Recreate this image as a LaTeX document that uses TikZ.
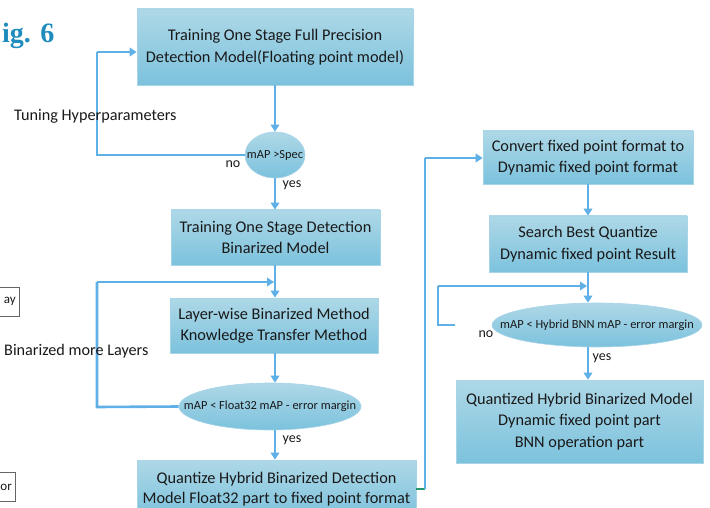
\documentclass[tikz,border=0pt]{standalone}
\usepackage{fontspec}
\setmainfont{Carlito}
\newfontfamily\figfont{Liberation Serif}
\usetikzlibrary{arrows.meta,shapes.geometric}

\definecolor{flowline}{RGB}{96,176,232}
\definecolor{boxtop}{RGB}{174,216,231}
\definecolor{boxbottom}{RGB}{124,194,221}
\definecolor{boxedge}{RGB}{168,212,232}
\definecolor{figblue}{RGB}{32,140,190}
\definecolor{textdark}{RGB}{25,25,25}
\definecolor{exitgreen}{RGB}{40,150,110}

\tikzset{
  stepbox/.style={rectangle, draw=boxedge, line width=0.6pt,
    top color=boxtop, bottom color=boxbottom, text=textdark,
    align=center, inner sep=0pt, font=\fontsize{16.3}{21.5}\selectfont},
  % the oval itself carries no text; its caption is a centred label
  testoval/.style={ellipse, draw=boxedge, line width=0.6pt,
    top color=boxtop, bottom color=boxbottom, inner sep=0pt,
    label={[text=textdark, inner sep=0pt, font=\fontsize{12.4}{14}\selectfont]center:#1}},
  flow/.style={draw=flowline, line width=2.6pt,
    -{Triangle[length=7pt,width=8.5pt]}},
  plainflow/.style={draw=flowline, line width=2.6pt},
  note/.style={text=textdark, inner sep=0pt, font=\fontsize{16.2}{19}\selectfont},
  smallnote/.style={text=textdark, inner sep=0pt, font=\fontsize{14}{16}\selectfont},
  sidebox/.style={draw=black!60, line width=0.6pt, fill=white},
}

\begin{document}
\begin{tikzpicture}[x=1pt,y=-1pt]
\useasboundingbox (0,0) rectangle (710,508);

% figure caption
\node[anchor=base west, inner sep=0pt, text=figblue,
      font=\figfont\bfseries\fontsize{28}{30}\selectfont] (figlabel) at (2,43) {ig. 6};

% partial boxes at the left border
\draw[sidebox] (-20,287) rectangle (19,316);
\node[anchor=east, inner sep=0pt, text=textdark, font=\fontsize{13}{15}\selectfont] (sideA) at (16,301) {ay};
\draw[sidebox] (-20,472) rectangle (15,501);
\node[anchor=east, inner sep=0pt, text=textdark, font=\fontsize{13}{15}\selectfont] (sideB) at (12,487) {or};

% left column
\node[stepbox, minimum width=276pt, minimum height=76pt] (train) at (275,47)
  {Training One Stage Full Precision\\Detection Model(Floating point model)};
\node[testoval={mAP >Spec}, minimum width=60pt, minimum height=46pt] (spec) at (275,155) {};
\node[stepbox, minimum width=209pt, minimum height=55pt] (binmodel) at (275.5,237.5)
  {Training One Stage Detection\\Binarized Model};
\node[stepbox, minimum width=208pt, minimum height=55pt] (layerwise) at (274,325.5)
  {Layer-wise Binarized Method\\Knowledge Transfer Method};
\node[testoval={mAP < Float32 mAP - error margin}, minimum width=182pt, minimum height=47pt]
  (floatcheck) at (270,406.5) {};
\node[stepbox, minimum width=279pt, minimum height=58pt, font=\fontsize{16.3}{20.5}\selectfont]
  (quantize) at (276.5,489) {Quantize Hybrid Binarized Detection\\Model Float32 part to fixed point format};

% right column
\node[stepbox, minimum width=210pt, minimum height=53pt] (convert) at (588,157.5)
  {Convert fixed point format to\\Dynamic fixed point format};
\node[stepbox, minimum width=198pt, minimum height=56pt] (search) at (588,244)
  {Search Best Quantize\\Dynamic fixed point Result};
\node[testoval={mAP < Hybrid BNN mAP - error margin}, minimum width=210pt, minimum height=44pt]
  (bnncheck) at (597,325) {};
\node[stepbox, minimum width=247pt, minimum height=83pt] (final) at (579.5,421.5)
  {Quantized Hybrid Binarized Model\\Dynamic fixed point part\\BNN operation part};

% helper points for the loops
\coordinate (tuneL) at (97,155);
\coordinate (tuneT) at (97,52);
\coordinate (moreL) at (97,407);
\coordinate (moreT) at (97,282);
\coordinate (moreJ) at (275,282);
\coordinate (exitG) at (425,489);
\coordinate (exitT) at (425,158);
\coordinate (retryS) at (455,325);
\coordinate (retryL) at (438,325);
\coordinate (retryT) at (438,286);
\coordinate (retryJ) at (588,286);

% main flow, left column
\draw[flow] (train.south -| spec.north) -- (spec.north);
\draw[flow] (spec.south) -- (spec.south |- binmodel.north);
\draw[flow] (binmodel.south -| moreJ) -- (moreJ |- layerwise.north);
\draw[flow] (layerwise.south -| moreJ) -- (moreJ |- floatcheck.north);
\draw[flow] (floatcheck.south -| moreJ) -- (moreJ |- quantize.north);

% tuning loop
\draw[plainflow] (spec.west) -- (tuneL) -- (tuneT);
\draw[flow] (tuneT) -- (tuneT -| train.west);

% binarize-more loop
\draw[plainflow] (floatcheck.west) -- (moreL) -- (moreT);
\draw[flow] (moreT) -- ([xshift=-1pt]moreJ);

% hand-over to the right column
\draw[draw=exitgreen, line width=2pt] (quantize.east |- exitG) -- (exitG);
\draw[plainflow] (exitG) -- (exitT);
\draw[flow] (exitT) -- (exitT -| convert.west);

% main flow, right column
\draw[flow] (convert.south) -- (search.north);
\draw[flow] (search.south) -- (retryJ |- bnncheck.north);
\draw[flow] (retryJ |- bnncheck.south) -- (retryJ |- final.north);

% retry loop
\draw[plainflow] (retryS) -- (retryL) -- (retryT);
\draw[flow] (retryT) -- ([xshift=-1pt]retryJ);

% labels
\node[note, anchor=west] (tunetext) at (14,116) {Tuning Hyperparameters};
\node[note, anchor=west] (moretext) at (4,351) {Binarized more Layers};
\node[smallnote] (no1) at (233,164) {no};
\node[smallnote] (yes1) at (292,185) {yes};
\node[smallnote] (yes2) at (292,440) {yes};
\node[smallnote] (no2) at (486,334) {no};
\node[smallnote] (yes3) at (602,358) {yes};

\end{tikzpicture}
\end{document}
